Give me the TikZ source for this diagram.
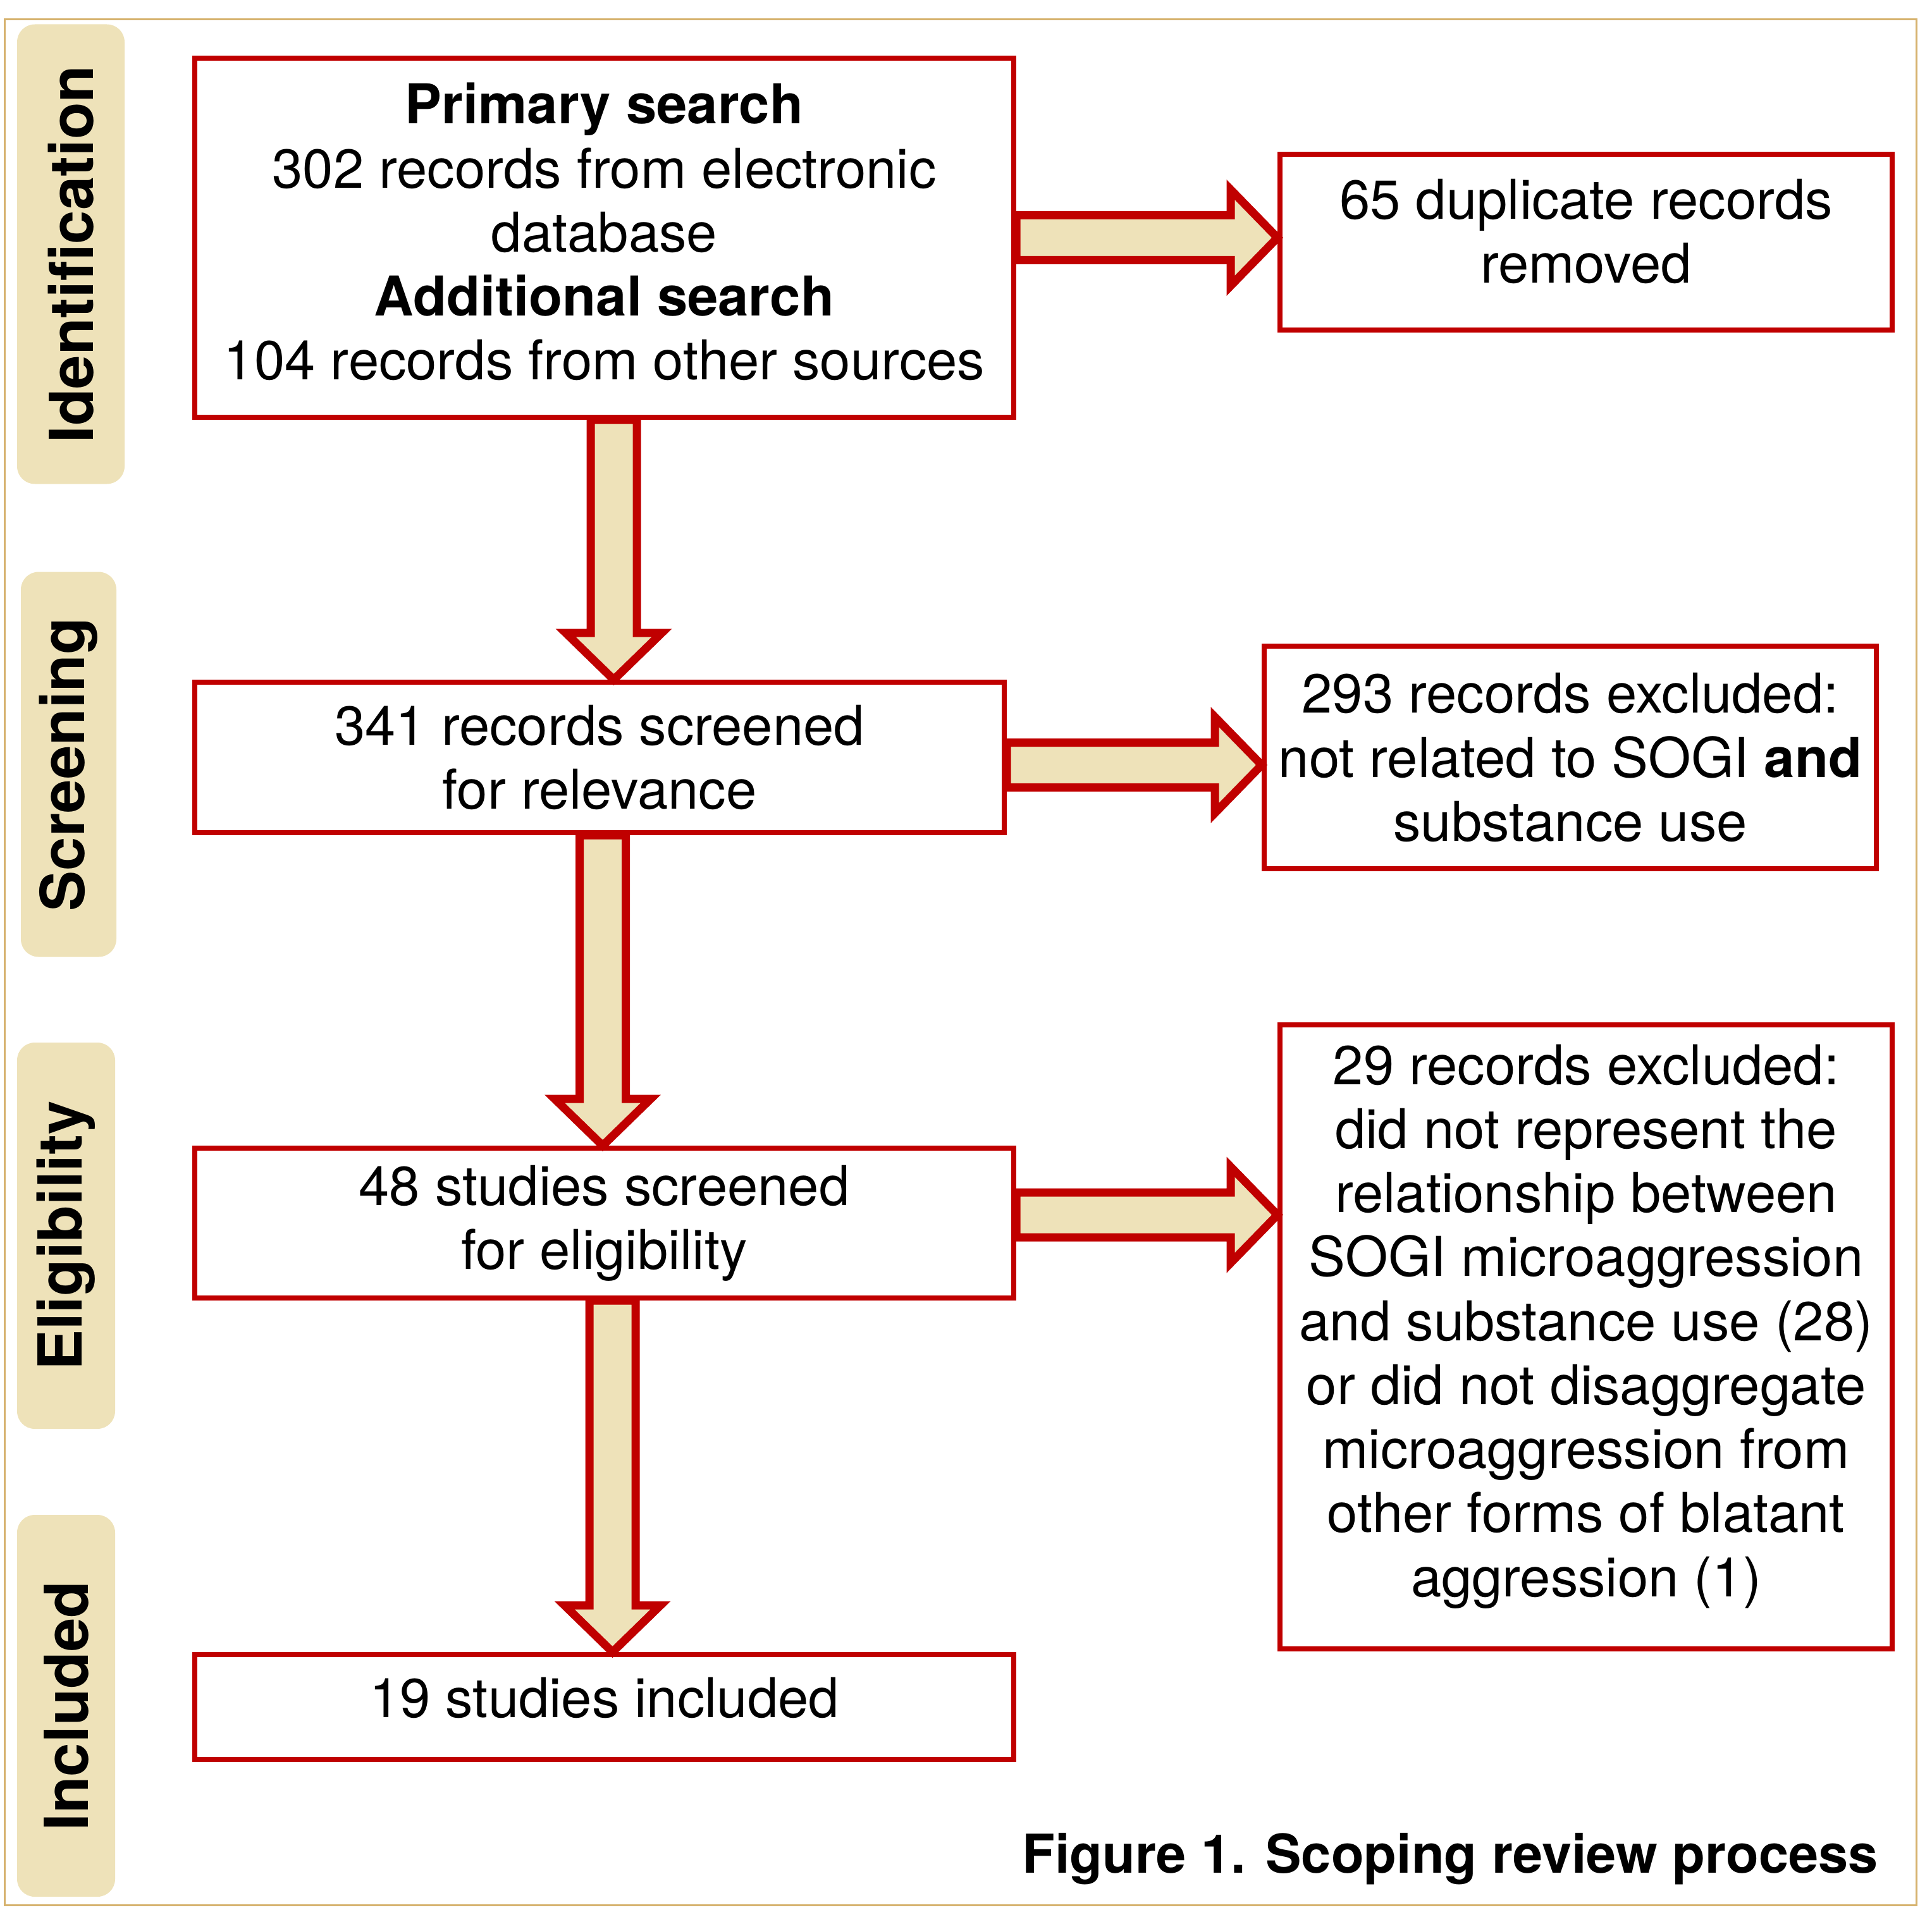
\documentclass[tikz,border=0pt]{standalone}
\usepackage{fontspec}
\setmainfont{TeX Gyre Heros}
\usepackage{xcolor}
\usepackage{tikz}
\usetikzlibrary{positioning,calc}

\definecolor{boxred}{RGB}{192,0,0}
\definecolor{sand}{RGB}{238,226,185}
\definecolor{framegold}{RGB}{214,178,110}

% block arrows between two named boxes, optional shift of the shaft
\newcommand{\flowright}[3][0cm]{%
\draw[blockarrow] ($(#2.east)+(0cm,#1+0.355cm)$) -- ($(#2.east -| #3.west)+(-0.74cm,#1+0.355cm)$) -- ($(#2.east -| #3.west)+(-0.74cm,#1+0.76cm)$) -- ($(#2.east -| #3.west)+(0cm,#1)$) -- ($(#2.east -| #3.west)+(-0.74cm,#1-0.76cm)$) -- ($(#2.east -| #3.west)+(-0.74cm,#1-0.355cm)$) -- ($(#2.east)+(0cm,#1-0.355cm)$) -- cycle;}
\newcommand{\flowdown}[3][0cm]{%
\draw[blockarrow] ($(#2.south)+(#1-0.365cm,0cm)$) -- ($(#3.north -| #2.south)+(#1-0.365cm,0.74cm)$) -- ($(#3.north -| #2.south)+(#1-0.76cm,0.74cm)$) -- ($(#3.north -| #2.south)+(#1,0cm)$) -- ($(#3.north -| #2.south)+(#1+0.76cm,0.74cm)$) -- ($(#3.north -| #2.south)+(#1+0.365cm,0.74cm)$) -- ($(#2.south)+(#1+0.365cm,0cm)$) -- cycle;}

\begin{document}
\begin{tikzpicture}[
box/.style={draw=boxred, line width=0.08cm, minimum width=12.95cm, align=center, inner sep=0pt, font=\fontsize{24.7pt}{28.8pt}\selectfont},
sidebox/.style={box, minimum width=9.68cm},
phase/.style={fill=sand, rounded corners=0.28cm, rotate=90, inner sep=0pt, minimum height=1.55cm, font=\fontsize{27.3pt}{32pt}\selectfont\bfseries},
blockarrow/.style={draw=boxred, fill=sand, line width=0.13cm, line join=miter}
]
\useasboundingbox (0,0) rectangle (30.55,-30.20);
\draw[framegold, line width=0.03cm] (0.07,-0.31) rectangle (30.30,-30.13);

% phases
\node[phase, minimum width=7.27cm, minimum height=1.70cm] (ident) at (1.12,-4.02) {Identification};
\node[phase, minimum width=6.09cm, minimum height=1.51cm] (screenlab) at (1.085,-12.09) {Screening};
\node[phase, minimum width=6.11cm] (eliglab) at (1.045,-19.545) {Eligibility};
\node[phase, minimum width=6.04cm] (incllab) at (1.045,-26.98) {Included};

% main column
\node[box, minimum height=5.68cm, text depth=0.2cm] (search) at (9.555,-3.76) {\textbf{Primary search}\\302 records from electronic\\database\\\textbf{Additional search}\\104 records from other sources};
\node[box, minimum width=12.80cm, minimum height=2.38cm, below=4.11cm of search.south west, anchor=north west] (screen) {341 records screened\\for relevance};
\node[box, minimum height=2.37cm, below=4.91cm of screen.south west, anchor=north west] (elig) {48 studies screened\\for eligibility};
\node[box, minimum height=1.66cm, text depth=0.3cm, below=5.56cm of elig] (incl) {19 studies included};

% exclusions
\node[sidebox, minimum height=2.78cm, text depth=0.36cm, right=4.13cm of search, yshift=-0.07cm] (dup) {65 duplicate records\\removed};
\node[sidebox, minimum height=3.52cm, right=4.03cm of screen] (excl) {293 records excluded:\\not related to SOGI \textbf{and}\\substance use};
\node[sidebox, minimum height=9.87cm, text depth=0.52cm, right=4.13cm of elig.north east, anchor=north west, yshift=1.95cm] (exclelig) {29 records excluded:\\did not represent the\\relationship between\\SOGI microaggression\\and substance use (28)\\or did not disaggregate\\microaggression from\\other forms of blatant\\aggression (1)};

\node[anchor=base east, font=\fontsize{24.1pt}{29pt}\selectfont\bfseries] (caption) at (29.82,-29.62) {Figure 1. Scoping review process};

% arrows
\flowright{search}{dup}
\flowright[-0.12cm]{screen}{excl}
\flowright[0.13cm]{elig}{exclelig}
\flowdown[0.15cm]{search}{screen}
\flowdown[0.05cm]{screen}{elig}
\flowdown[0.13cm]{elig}{incl}
\end{tikzpicture}
\end{document}
